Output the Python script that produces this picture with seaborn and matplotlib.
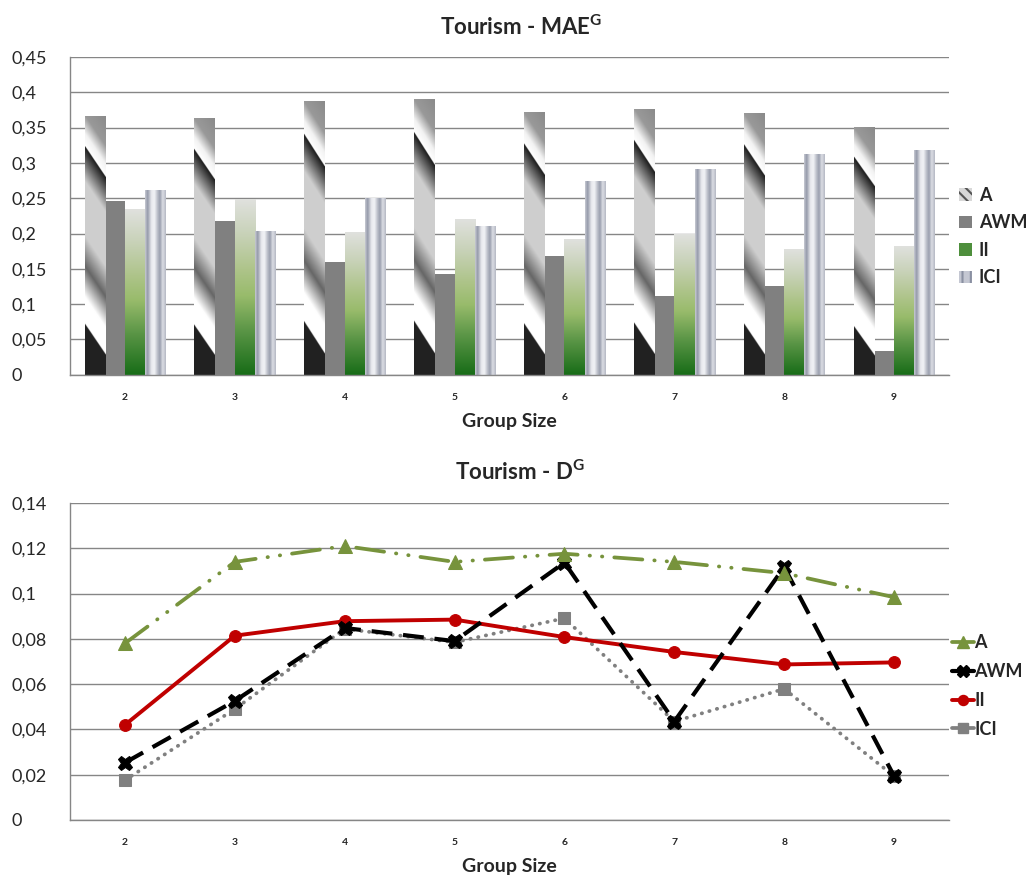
import numpy as np
import pandas as pd
import matplotlib
matplotlib.use("Agg")
import matplotlib.pyplot as plt
import seaborn as sns
from matplotlib.patches import Patch
from matplotlib.lines import Line2D
from matplotlib.colors import to_rgb

# ---- data ----
group_sizes = [2, 3, 4, 5, 6, 7, 8, 9]
methods = ["A", "AWM", "II", "ICI"]

mae_a = [0.367, 0.364, 0.387, 0.390, 0.372, 0.377, 0.370, 0.351]
mae_awm = [0.246, 0.218, 0.160, 0.142, 0.168, 0.112, 0.125, 0.034]
mae_ii = [0.235, 0.249, 0.202, 0.220, 0.192, 0.199, 0.178, 0.182]
mae_ici = [0.262, 0.204, 0.250, 0.210, 0.275, 0.291, 0.312, 0.318]

d_a = [0.078, 0.114, 0.121, 0.114, 0.1176, 0.114, 0.109, 0.0984]
d_awm = [0.0253, 0.0526, 0.0848, 0.079, 0.1137, 0.0435, 0.1117, 0.0194]
d_ii = [0.042, 0.0814, 0.0878, 0.0885, 0.0808, 0.0742, 0.0687, 0.0696]
d_ici = [0.0176, 0.049, 0.0844, 0.0785, 0.0891, 0.0435, 0.0579, 0.0194]

mae = pd.DataFrame({
    "Group Size": np.tile(group_sizes, 4),
    "Method": np.repeat(methods, len(group_sizes)),
    "MAE": mae_a + mae_awm + mae_ii + mae_ici,
})
dg = pd.DataFrame({
    "Group Size": np.tile(group_sizes, 4),
    "Method": np.repeat(methods, len(group_sizes)),
    "D": d_a + d_awm + d_ii + d_ici,
})

sns.set_style("white")
plt.rcParams["font.family"] = ["Lato", "DejaVu Sans"]
plt.rcParams["mathtext.fontset"] = "custom"
plt.rcParams["mathtext.rm"] = "Lato"
plt.rcParams["mathtext.bf"] = "Lato:bold"
plt.rcParams["hatch.linewidth"] = 1.5

GRID = "#868686"
W, H = 1031, 877
fig = plt.figure(figsize=(W / 100, H / 100), dpi=100)
ax1 = fig.add_axes([70 / W, 1 - 374.7 / H, 879 / W, 317.7 / H])
ax2 = fig.add_axes([70 / W, 1 - 820 / H, 879 / W, 317 / H])


# ---- bar fills (gradients clipped to each bar) ----
def fill_bar(ax, bar, kind):
    x0, w, h = bar.get_x(), bar.get_width(), bar.get_height()
    u = np.linspace(0, 1, 60)
    v = np.linspace(0, 1, 500)
    U, V = np.meshgrid(u, v)
    if kind == "A":
        s = V + 0.118 * U
        pos = [0, 0.196, 0.1965, 0.30, 0.418, 0.536, 0.745, 0.881, 0.8815, 0.93, 1.0, 1.2]
        val = [0.13, 0.13, 1.0, 1.0, 0.40, 0.81, 0.81, 0.10, 1.0, 0.95, 0.6, 0.5]
        g = np.interp(s, pos, val)
        rgb = np.dstack([g, g, g])
    elif kind == "II":
        pos = [0, 0.25, 0.45, 0.6, 0.8, 1.0]
        cols = np.array([to_rgb(c) for c in
                         ["#176c17", "#5a9546", "#98bb6b", "#aec48a", "#c8d2b8", "#e0e1de"]])
        rgb = np.dstack([np.interp(V, pos, cols[:, i]) for i in range(3)])
    else:
        pos = [0, 0.12, 0.3, 0.45, 0.6, 0.72, 0.85, 1.0]
        val = [0.6, 0.15, 0.9, 1.0, 0.5, 0.2, 0.8, 0.45]
        t = np.interp(U, pos, val)
        dark, light = np.array(to_rgb("#848a9c")), np.array(to_rgb("#f2f3f6"))
        rgb = dark + (light - dark) * t[..., None]
    im = ax.imshow(rgb, extent=[x0, x0 + w, 0, h], origin="lower", aspect="auto",
                   interpolation="bilinear", zorder=bar.get_zorder() + 0.1)
    im.set_clip_path(bar)


sns.barplot(data=mae, x="Group Size", y="MAE", hue="Method", hue_order=methods,
            palette={"A": "#c8c8c8", "AWM": "#808080", "II": "#7aa85a", "ICI": "#b8bcc8"},
            width=0.735, saturation=1, linewidth=0, legend=False, ax=ax1)
for method, cont in zip(methods, ax1.containers):
    if method == "AWM":
        continue
    for bar in cont:
        fill_bar(ax1, bar, method)

ax1.set_xlim(-0.5, 7.5)
ax1.set_ylim(0, 0.45)
ax1.set_yticks(np.arange(0, 0.451, 0.05))

# ---- line chart ----
line_styles = {
    "A": dict(color="#77933c", marker="^", ms=9.5, lw=2.7, dashes=(7.5, 3.2, 0.1, 3.2, 0.1, 3.2),
              dash_capstyle="round"),
    "AWM": dict(color="black", marker="X", ms=10.5, lw=3.0, dashes=(5, 2.6), mew=0.5),
    "II": dict(color="#c00000", marker="o", ms=8.5, lw=2.8),
    "ICI": dict(color="#808080", marker="s", ms=8, lw=2.7, dashes=(0.1, 2.0),
                dash_capstyle="round"),
}
for method in ["ICI", "II", "AWM", "A"]:
    st = line_styles[method]
    sub = dg[dg["Method"] == method]
    kw = dict(color=st["color"], marker=st["marker"], markersize=st["ms"],
              linewidth=st["lw"], markeredgecolor=st["color"])
    sns.lineplot(data=sub, x="Group Size", y="D", ax=ax2, **kw)
    line = ax2.lines[-1]
    if "dashes" in st:
        line.set_dashes(st["dashes"])
        line.set_dash_capstyle(st.get("dash_capstyle", "butt"))

ax2.set_xlim(1.5, 9.5)
ax2.set_ylim(0, 0.14)
ax2.set_xticks(group_sizes)
ax2.set_yticks(np.arange(0, 0.141, 0.02))

# ---- common axis styling ----
for ax in (ax1, ax2):
    ax.set_axisbelow(True)
    ax.grid(axis="y", color=GRID, lw=1.0)
    ax.grid(axis="x", visible=False)
    for side in ("top", "right"):
        ax.spines[side].set_visible(False)
    for side in ("left", "bottom"):
        ax.spines[side].set_color(GRID)
        ax.spines[side].set_linewidth(1.0)
    ax.yaxis.set_major_formatter(lambda v, p: f"{v:.2f}".rstrip("0").rstrip(".").replace(".", ","))
    ax.tick_params(axis="y", length=4.3, width=1.0, color=GRID, pad=37.5, labelsize=13)
    for t in ax.yaxis.get_major_ticks():
        t.label1.set_horizontalalignment("left")
    ax.tick_params(axis="x", length=0, pad=13)
    for lbl in ax.get_xticklabels():
        lbl.set_fontsize(7.5)
        lbl.set_fontweight("bold")
    ax.set_ylabel("")
    ax.set_xlabel("Group Size", fontsize=14, fontweight="bold")
    ax.xaxis.set_label_coords(0.5, -0.12)

fig.text(521 / W, 1 - 27 / H, r"Tourism - MAE$^{\mathbf{G}}$", ha="center", va="center",
         fontsize=16, fontweight="bold")
fig.text(520 / W, 1 - 472 / H, r"Tourism - D$^{\mathbf{G}}$", ha="center", va="center",
         fontsize=16, fontweight="bold")

# ---- legends ----
bar_handles = [
    Patch(facecolor="#d8d8d8", edgecolor="#555555", hatch="\\\\\\", lw=0),
    Patch(facecolor="#808080", lw=0),
    Patch(facecolor="#4e8f3c", lw=0),
    Patch(facecolor="#c4c7d2", edgecolor="#8a90a2", hatch="||", lw=0),
]
fig.legend(bar_handles, methods, loc="upper left",
           bbox_to_anchor=(959 / W, 1 - 187 / H), frameon=False,
           prop={"weight": "bold", "size": 13}, handlelength=0.7,
           handleheight=0.7, handletextpad=0.4, labelspacing=0.58,
           borderpad=0, borderaxespad=0)

line_handles = []
for method in methods:
    st = line_styles[method]
    line_handles.append(Line2D([], [], color=st["color"], marker=st["marker"],
                               markersize=st["ms"] * 0.85, lw=st["lw"],
                               markeredgecolor=st["color"]))
fig.legend(line_handles, methods, loc="upper left",
           bbox_to_anchor=(952 / W, 1 - 634 / H), frameon=False,
           prop={"weight": "bold", "size": 13}, handlelength=1.2,
           handletextpad=0.05, labelspacing=0.66,
           borderpad=0, borderaxespad=0)

fig.savefig("out.png", dpi=100)
